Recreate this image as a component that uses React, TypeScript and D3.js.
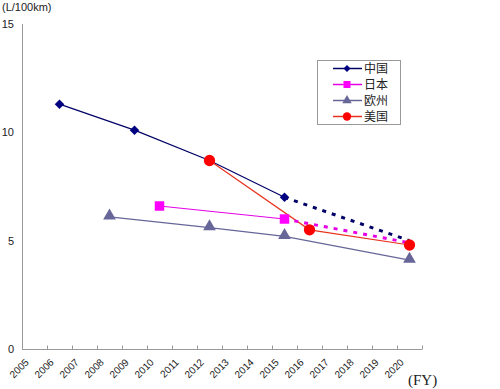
import React, { useEffect, useRef } from 'react';
import * as d3 from 'd3';

const years = ['2005', '2006', '2007', '2008', '2009', '2010', '2011', '2012', '2013', '2014', '2015', '2016', '2017', '2018', '2019', '2020'];
const yTicks = [0, 5, 10, 15];

// [year, value] pairs, solid part and dotted (target) part
const chinaSolid: [string, number][] = [['2006', 11.3], ['2009', 10.1], ['2012', 8.7], ['2015', 7.0]];
const chinaDotted: [string, number][] = [['2015', 7.0], ['2020', 5.0]];
const japanSolid: [string, number][] = [['2010', 6.6], ['2015', 6.0]];
const japanDotted: [string, number][] = [['2015', 6.0], ['2020', 4.9]];
const euSolid: [string, number][] = [['2008', 6.1], ['2012', 5.6], ['2015', 5.2], ['2020', 4.1]];
const usSolid: [string, number][] = [['2012', 8.7], ['2016', 5.5], ['2020', 4.8]];

const seriesNames = ['中国', '日本', '欧州', '美国'];
const seriesColors = ['#000080', '#ff00ff', '#666699', '#ff0000'];
const lineColors = ['#000066', '#e600e6', '#666699', '#e8321e'];
const symbols = [d3.symbolSquare, d3.symbolSquare, d3.symbolTriangle, d3.symbolCircle];
const symbolSizes = [45, 90, 70, 100];

const App = () => {
  const svgRef = useRef<SVGSVGElement>(null);

  useEffect(() => {
    const width = 500;
    const height = 389;
    const svg = d3.select(svgRef.current);
    svg.selectAll('*').remove();
    svg.attr('width', width).attr('height', height);

    const x = d3.scaleBand().domain(years).range([22, 422]);
    const y = d3.scaleLinear().domain([0, 15]).range([349, 24]);
    const cx = (d: [string, number]) => (x(d[0]) as number) + x.bandwidth() / 2;

    const sans = 'Liberation Sans, Arial, sans-serif';

    // y axis
    svg.append('line')
      .attr('x1', 22.5).attr('x2', 22.5)
      .attr('y1', y(15)).attr('y2', y(0))
      .attr('stroke', '#999');
    svg.selectAll('text.ytick')
      .data(yTicks)
      .enter()
      .append('text')
      .attr('class', 'ytick')
      .attr('x', 14)
      .attr('y', d => y(d) + 4)
      .attr('text-anchor', 'end')
      .attr('font-family', sans)
      .attr('font-size', 11)
      .attr('fill', '#222')
      .text(d => String(d));

    svg.append('text')
      .attr('x', 2).attr('y', 11)
      .attr('font-family', sans)
      .attr('font-size', 11)
      .attr('fill', '#222')
      .text('(L/100km)');

    // x axis
    const xAxis = svg.append('g')
      .attr('transform', `translate(0,${y(0) + 0.5})`);
    xAxis.append('line')
      .attr('x1', 22).attr('x2', 422)
      .attr('stroke', '#999');
    xAxis.selectAll('line.tick')
      .data(d3.range(years.length + 1))
      .enter()
      .append('line')
      .attr('class', 'tick')
      .attr('x1', i => 22.5 + i * x.step())
      .attr('x2', i => 22.5 + i * x.step())
      .attr('y1', -4).attr('y2', 0)
      .attr('stroke', '#999');
    svg.selectAll('text.xtick')
      .data(years)
      .enter()
      .append('text')
      .attr('class', 'xtick')
      .attr('transform', d => `translate(${(x(d) as number) + x.bandwidth() / 2 - 5},${y(0) + 14}) rotate(-45)`)
      .attr('text-anchor', 'end')
      .attr('font-family', sans)
      .attr('font-size', 10)
      .attr('fill', '#222')
      .text(d => d);

    svg.append('text')
      .attr('x', 408).attr('y', 385)
      .attr('font-family', 'Liberation Serif, serif')
      .attr('font-size', 15)
      .attr('fill', '#222')
      .text('(FY)');

    const line = d3.line<[string, number]>().x(cx).y(d => y(d[1]));

    const solids = [chinaSolid, japanSolid, euSolid, usSolid];
    const dotted: [[string, number][], number][] = [[chinaDotted, 0], [japanDotted, 1]];

    // order drawn: eu, japan, china, us
    [2, 1, 0, 3].forEach(i => {
      svg.append('path')
        .attr('d', line(solids[i]))
        .attr('fill', 'none')
        .attr('stroke', lineColors[i])
        .attr('stroke-width', 1.2);
    });
    dotted.forEach(([pts, i]) => {
      svg.append('path')
        .attr('d', line(pts))
        .attr('fill', 'none')
        .attr('stroke', lineColors[i])
        .attr('stroke-width', 3)
        .attr('stroke-dasharray', '4 6');
    });

    [2, 1, 0, 3].forEach(i => {
      svg.selectAll(`path.m${i}`)
        .data(solids[i])
        .enter()
        .append('path')
        .attr('class', `m${i}`)
        .attr('d', d3.symbol().type(symbols[i]).size(symbolSizes[i])())
        .attr('transform', d => `translate(${cx(d)},${y(d[1]) + (i === 2 ? -1 : 0)})${i === 0 ? ' rotate(45)' : ''}`)
        .attr('fill', seriesColors[i]);
    });

    // legend
    const lg = svg.append('g').attr('transform', 'translate(317,60)');
    lg.append('rect')
      .attr('x', 0.5).attr('y', 0.5)
      .attr('width', 83).attr('height', 64)
      .attr('fill', '#fff')
      .attr('stroke', '#999');
    seriesNames.forEach((name, i) => {
      const ly = 8.5 + i * 16;
      lg.append('line')
        .attr('x1', 16).attr('x2', 45)
        .attr('y1', ly).attr('y2', ly)
        .attr('stroke', lineColors[i])
        .attr('stroke-width', 1.5);
      lg.append('path')
        .attr('d', d3.symbol().type(symbols[i]).size(symbolSizes[i] * 0.55)())
        .attr('transform', `translate(30,${ly})${i === 0 ? ' rotate(45)' : ''}`)
        .attr('fill', seriesColors[i]);
      lg.append('text')
        .attr('x', 47).attr('y', ly + 4.5)
        .attr('font-family', 'Noto Sans CJK SC, sans-serif')
        .attr('font-size', 12)
        .attr('fill', '#222')
        .text(name);
    });
  }, []);

  return <svg ref={svgRef} style={{ position: 'absolute', left: 0, top: 0 }}></svg>;
};

export default App;
